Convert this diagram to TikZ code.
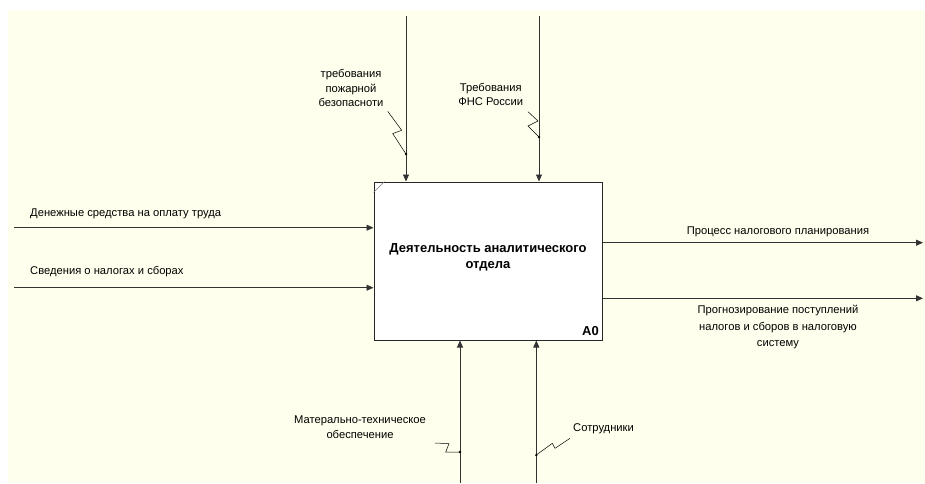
\documentclass[tikz,border=0pt]{standalone}
\usepackage{fontspec}
\setmainfont{Liberation Sans}
\usetikzlibrary{arrows.meta, positioning}

\definecolor{idefbg}{RGB}{255,255,238}

\begin{document}
\begin{tikzpicture}[
        x = 1pt, y = -1pt,
        >= {Triangle[length = 7pt, width = 6pt]},
        arc/.style = {draw = black!80, line width = 0.9pt},
        flow/.style = {arc, ->},
        squiggle/.style = {draw = black, line width = 0.5pt},
        lbl/.style = {font = \fontsize{11.2}{14.5}\selectfont, inner sep = 0pt, align = center},
        func/.style = {draw = black!85, line width = 1pt, fill = white,
                       minimum width = 228pt, minimum height = 158pt, inner sep = 0pt},
        title/.style = {font = \bfseries\fontsize{13}{16}\selectfont, align = center, inner sep = 0pt}
    ]

      % sheet
      \useasboundingbox (0,0) rectangle (925,483);
      \fill[idefbg] (8,10) rectangle (925,483);

      % the function block
      \node[func] (act) at (488,261) {};
      \node[title] (ttl) at (488,257) {Деятельность аналитического\\отдела};
      \node[font = \bfseries\fontsize{13}{14}\selectfont, inner sep = 0pt] (num) at (590.5,331.5) {A0};
      \draw[gray, line width = 0.6pt] (act.north west) ++(0,11) -- ++(11,-11);

      % free ends of the arrows
      \coordinate (ctlA) at (406,16);
      \coordinate (ctlB) at (539,16);
      \coordinate (inA) at (14,227.7);
      \coordinate (inB) at (14,287.7);
      \coordinate (outA) at (923,242.7);
      \coordinate (outB) at (923,298.3);
      \coordinate (mechA) at (460,483);
      \coordinate (mechB) at (536.3,483);

      \draw[flow] (ctlA) -- (ctlA |- act.north);
      \draw[flow] (ctlB) -- (ctlB |- act.north);
      \draw[flow] (inA) -- (inA -| act.west);
      \draw[flow] (inB) -- (inB -| act.west);
      \draw[flow] (act.east |- outA) -- (outA);
      \draw[flow] (act.east |- outB) -- (outB);
      \draw[flow] (mechA) -- (mechA |- act.south);
      \draw[flow] (mechB) -- (mechB |- act.south);

      % labels
      \node[lbl] (fire) at (351,88) {требования\\пожарной\\безопасноти};
      \node[lbl] (fns) at (490.7,94.3) {Требования\\ФНС России};
      \node[lbl, anchor = west] (money) at (30,214) {Денежные средства на оплату труда};
      \node[lbl, anchor = west] (taxinfo) at (30,271.7) {Сведения о налогах и сборах};
      \node[lbl] (plan) at (778,232) {Процесс налогового планирования};
      \node[lbl, font = \fontsize{11.2}{16.5}\selectfont] (fcst) at (778,327.3)
            {Прогнозирование поступлений\\налогов и сборов в налоговую\\систему};
      \node[lbl] (supply) at (360,427) {Матерально-техническое\\обеспечение};
      \node[lbl, anchor = west] (staff) at (573,429) {Сотрудники};

      % tildes from labels to arrows
      \coordinate (fireDot) at (406,154);
      \coordinate (fnsDot) at (539,137);
      \coordinate (supplyDot) at (460,452);
      \coordinate (staffDot) at (536.3,455);

      \draw[squiggle] (fireDot) -- ++(-13.3,-20.4) -- ++(9,-3.3) -- ++(-14,-19);
      \draw[squiggle] (fnsDot) -- ++(-11,-11) -- ++(10,-5) -- ++(-10,-9.3);
      \draw[squiggle] (supplyDot) -- ++(-14.3,0) -- ++(3.3,-8.4) -- ++(-14,-0.6);
      \draw[squiggle] (staffDot) -- ++(16,-11.7) -- ++(2.7,5) -- ++(15,-10);

      \foreach \d in {fireDot, fnsDot, supplyDot, staffDot}
            \fill (\d) circle (1.3pt);

\end{tikzpicture}
\end{document}
